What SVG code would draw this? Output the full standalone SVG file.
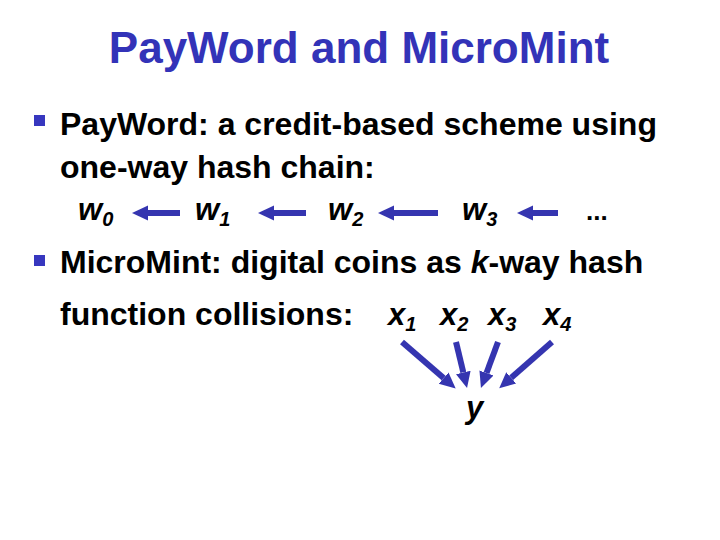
<svg xmlns="http://www.w3.org/2000/svg" width="720" height="540" viewBox="0 0 720 540">
<style>
.t{font-family:"Liberation Sans",Arial,sans-serif;font-weight:bold;fill:#000}
.title{font-family:"Liberation Sans",Arial,sans-serif;font-weight:bold;fill:#3333B8;font-size:44px}
.m{font-family:"Liberation Sans",Arial,sans-serif;font-weight:bold;font-style:italic;fill:#000;font-size:31px}
.s{font-size:20px}
.a{stroke:#3535B0;stroke-width:6;fill:none}
.b{fill:#3737BF}
</style>
<defs>
<marker id="ah" markerUnits="userSpaceOnUse" viewBox="0 -9 17 18" refX="0" refY="0" markerWidth="17" markerHeight="18" orient="auto">
<path d="M0,-7.5 L16,0 L0,7.5 z" fill="#3535B0"/>
</marker>
</defs>
<rect width="720" height="540" fill="#fff"/>
<text class="title" x="359" y="63" text-anchor="middle">PayWord and MicroMint</text>
<rect class="b" x="34" y="115" width="11" height="11"/>
<text class="t" x="60" y="135" font-size="32">PayWord: a credit-based scheme using</text>
<text class="t" x="60" y="178" font-size="32">one-way hash chain:</text>
<g id="w0"><text class="m" x="78" y="220">w<tspan class="s" dy="6">0</tspan></text></g>
<g id="w1"><text class="m" x="195" y="220">w<tspan class="s" dy="6">1</tspan></text></g>
<g id="w2"><text class="m" x="328" y="220">w<tspan class="s" dy="6">2</tspan></text></g>
<g id="w3"><text class="m" x="462" y="220">w<tspan class="s" dy="6">3</tspan></text></g>
<g id="wdots"><text class="t" x="586" y="220" font-size="26">...</text></g>
<rect class="b" x="34" y="255" width="11" height="11"/>
<text class="t" x="60" y="273" font-size="32">MicroMint: digital coins as <tspan font-style="italic">k</tspan>-way hash</text>
<text class="t" x="60" y="325" font-size="32">function collisions:</text>
<g id="x1"><text class="m" x="388" y="325">x<tspan class="s" dy="6">1</tspan></text></g>
<g id="x2"><text class="m" x="440" y="325">x<tspan class="s" dy="6">2</tspan></text></g>
<g id="x3"><text class="m" x="488" y="325">x<tspan class="s" dy="6">3</tspan></text></g>
<g id="x4"><text class="m" x="543" y="325">x<tspan class="s" dy="6">4</tspan></text></g>
<g id="y"><text class="m" x="466" y="418">y</text></g>
<g id="connectors">
<line class="a" x1="180" y1="213" x2="148" y2="213" marker-end="url(#ah)"/>
<line class="a" x1="306" y1="213" x2="274" y2="213" marker-end="url(#ah)"/>
<line class="a" x1="438" y1="213" x2="394" y2="213" marker-end="url(#ah)"/>
<line class="a" x1="558" y1="213" x2="533" y2="213" marker-end="url(#ah)"/>
<line class="a" x1="402" y1="342" x2="443.6" y2="378.1" marker-end="url(#ah)"/>
<line class="a" x1="456" y1="342" x2="463.3" y2="372.4" marker-end="url(#ah)"/>
<line class="a" x1="498" y1="342" x2="486.5" y2="373" marker-end="url(#ah)"/>
<line class="a" x1="552" y1="342" x2="511.2" y2="377.8" marker-end="url(#ah)"/>
</g>
</svg>
